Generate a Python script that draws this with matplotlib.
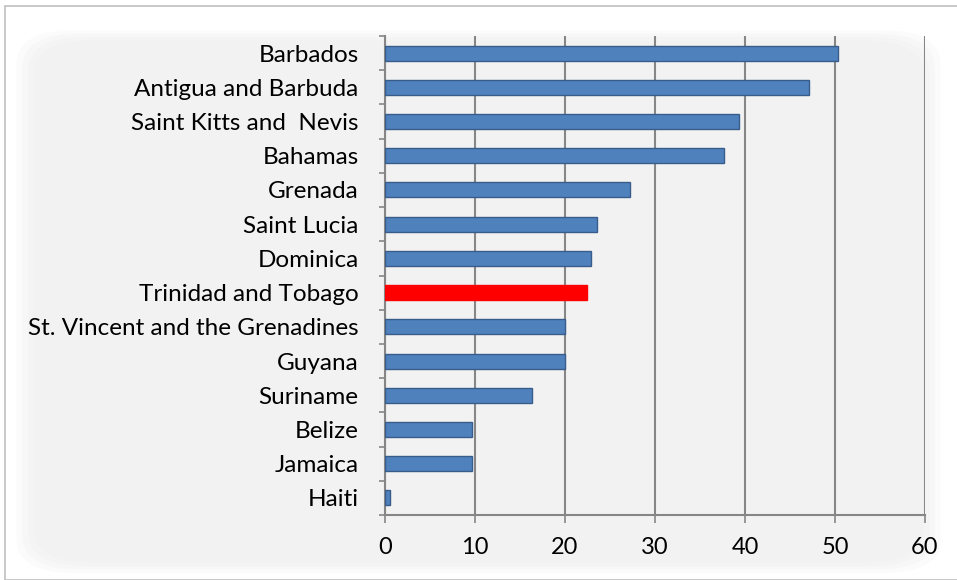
import numpy as np
import matplotlib
matplotlib.use('Agg')
import matplotlib.pyplot as plt
from matplotlib.patches import FancyBboxPatch, Rectangle

# data
countries = ['Barbados', 'Antigua and Barbuda', 'Saint Kitts and  Nevis', 'Bahamas',
             'Grenada', 'Saint Lucia', 'Dominica', 'Trinidad and Tobago',
             'St. Vincent and the Grenadines', 'Guyana', 'Suriname', 'Belize',
             'Jamaica', 'Haiti']
values = [50.3, 47.1, 39.3, 37.7, 27.2, 23.6, 22.9, 22.4, 20.0, 20.0, 16.3, 9.7, 9.65, 0.55]
highlight = 'Trinidad and Tobago'
xticks = [0, 10, 20, 30, 40, 50, 60]

plt.rcParams['font.family'] = ['Lato', 'DejaVu Sans']

fig = plt.figure(figsize=(9.57, 5.8), dpi=100)
fig.patch.set_facecolor('white')

# soft grey background with rounded corners
for i, a in enumerate([0.25, 0.35, 0.5, 1.0]):
    pad = 0.012 * (3 - i)
    fig.patches.append(FancyBboxPatch((0.035 - pad / 2, 0.03 - pad / 2), 0.93 + pad, 0.9 + pad,
                                      boxstyle='round,pad=0,rounding_size=0.06',
                                      transform=fig.transFigure, facecolor='#f2f2f2',
                                      edgecolor='none', alpha=a, zorder=-5))
# outer border
fig.patches.append(Rectangle((5 / 957, 0), 1.0, 1 - 6 / 580, transform=fig.transFigure,
                             facecolor='none', edgecolor='#bfbfbf', lw=1.2, zorder=-4))

ax = fig.add_axes([385 / 957, 1 - 515 / 580, 540 / 957, 479 / 580])
ax.set_zorder(1)
ax.set_facecolor('none')

y = np.arange(len(countries))
colors = ['#ff0000' if c == highlight else '#4f81bd' for c in countries]
edges = ['#ff0000' if c == highlight else '#385d8a' for c in countries]
ax.barh(y, values, height=0.44, color=colors, edgecolor=edges, linewidth=1.0, zorder=3)

ax.set_xlim(0, 60)
ax.set_ylim(len(countries) - 0.5, -0.5)
ax.set_xticks(xticks)
ax.set_xticklabels([str(t) for t in xticks], fontsize=17)
ax.set_yticks(np.arange(-0.5, len(countries)), labels=[''] * (len(countries) + 1))
ax.set_yticks(y, labels=countries, minor=True)
ax.tick_params(axis='y', which='minor', length=0, labelsize=17.5, pad=19)
ax.tick_params(axis='y', which='major', length=4, color='#868686', width=1.2)
ax.tick_params(axis='x', length=6, color='#868686', width=1.2, pad=10)

ax.grid(axis='x', color='#868686', lw=1.5, zorder=1)
ax.set_axisbelow(True)
for s in ['top', 'right']:
    ax.spines[s].set_visible(False)
for s in ['left', 'bottom']:
    ax.spines[s].set_color('#868686')
    ax.spines[s].set_linewidth(1.5)

fig.savefig('out.png', dpi=100, facecolor=fig.get_facecolor())
